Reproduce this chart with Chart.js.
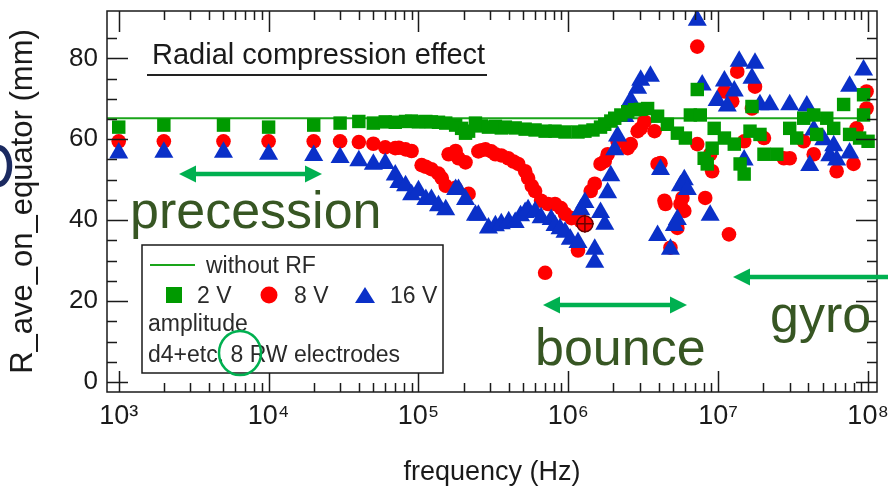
<!DOCTYPE html>
<html><head><meta charset="utf-8">
<script src="https://cdn.jsdelivr.net/npm/chart.js@4/dist/chart.umd.min.js"></script>
<style>html,body{margin:0;padding:0;background:#fff;}canvas{display:block;}</style>
</head><body>
<canvas id="c" width="888" height="492"></canvas>
<script>
// ---- data (frequency in Hz, R_ave_on_equator in mm) ----
const xTickValues = [1e3, 1e4, 1e5, 1e6, 1e7, 1e8];
const xTickLabels = ['10\u00B3', '10\u2074', '10\u2075', '10\u2076', '10\u2077', '10\u2078'];
const yTickValues = [0, 20, 40, 60, 80];

const freqNoRF = [835, 1e8];
const rNoRF = [65.2, 65.2];

const freq2V = [1e3,2e3,5e3,1e4,2e4,3e4,4e4,5e4,6e4,7e4,8.2e4,9e4,1e5,1.12e5,1.22e5,1.36e5,1.52e5,1.77e5,1.94e5,2.06e5,2.16e5,2.4e5,2.63e5,2.93e5,3.26e5,3.57e5,3.8e5,4.42e5,5.15e5,6e5,7e5,8.15e5,9.5e5,1.16e6,1.29e6,1.46e6,1.64e6,1.75e6,1.92e6,2.04e6,2.24e6,2.49e6,2.77e6,3.04e6,3.38e6,3.94e6,4.58e6,5.34e6,6.04e6,6.52e6,7.25e6,7.59e6,8.06e6,8.45e6,9.11e6,9.4e6,1.1e7,1.28e7,1.4e7,1.49e7,1.63e7,1.68e7,1.9e7,2.02e7,2.46e7,3e7,3.34e7,3.72e7,4.34e7,4.54e7,5.3e7,5.9e7,6.87e7,7.53e7,8.78e7,9.33e7,9.33e7,1e8];
const r2V = [63,63.5,63.5,63,63.5,64,64.4,64,64.3,64.2,64.4,64.5,64.3,64.4,64.3,64.2,64,63.5,62.7,61.5,62,64,63.3,63,63.2,62.8,63,62.8,62.5,62.3,62,62,61.8,61.8,62,62.3,63,63.7,64.5,65.2,66,66.8,67.3,67.4,67.6,65.7,63.7,61.5,60.3,66,72.3,66,55.3,53.9,57.8,62.7,60.3,58.8,53.9,51.4,62,68.1,61.2,56.3,56.3,62.7,60.3,65.2,66,61.2,65.2,62.7,68.6,61.2,60.3,71,66,59.5];

const freq8V = [1e3,2e3,5e3,1e4,2e4,3e4,4e4,5e4,6e4,7e4,7.4e4,8.2e4,9e4,1.05e5,1.12e5,1.22e5,1.36e5,1.43e5,1.52e5,1.59e5,1.77e5,1.77e5,1.85e5,2.06e5,2.16e5,2.51e5,2.63e5,2.8e5,3.06e5,3.26e5,3.57e5,3.97e5,4.3e5,4.63e5,5.15e5,5.39e5,5.7e5,6e5,6.58e5,7e5,7.33e5,8.15e5,8.93e5,9.5e5,1.05e6,1.16e6,1.21e6,1.41e6,1.5e6,1.64e6,1.75e6,1.83e6,2.13e6,2.49e6,2.61e6,2.9e6,3.04e6,3.22e6,3.76e6,3.94e6,4.12e6,4.38e6,4.45e6,4.8e6,5.34e6,5.6e6,5.77e6,5.94e6,7.25e6,7.25e6,8.19e6,8.84e6,9.11e6,1.1e7,1.18e7,1.24e7,1.34e7,1.49e7,1.68e7,1.76e7,2.02e7,2.74e7,3e7,3.72e7,4.34e7,6.17e7,8e7,8.38e7,9.77e7,9.77e7];
const r8V = [59.5,59.5,59.5,59.5,59.5,59.5,59.3,58.9,58,57.8,57.9,57.5,57.1,53.6,53.2,52.6,51.5,50.4,48.5,56.3,48,57.1,55.3,54.3,46.5,57,57.3,57.5,57,56.3,56,55.3,54.5,53.9,52.1,50.4,48.5,47.2,44.8,27,44,44,43,41.6,40.5,32.5,39.8,47.2,49,53.9,54.6,56.3,59.5,57.8,58.8,62,62.7,64.4,62,53.9,54.1,44.8,44,33.2,38.1,44,45.5,42.3,82.9,58.8,45.5,56.3,52.1,71.8,36.5,69.4,76.7,59.5,67.6,73,60.3,55.3,55.3,59.5,56.3,52.1,53.9,62.7,71.8,67.6];

const freq16V = [1e3,2e3,5e3,1e4,2e4,3e4,4e4,5e4,6e4,7e4,7.4e4,8.2e4,9e4,1e5,1.12e5,1.22e5,1.36e5,1.52e5,1.77e5,1.85e5,2.06e5,2.4e5,2.51e5,2.93e5,3.26e5,3.57e5,4e5,4.42e5,4.8e5,5.15e5,5.39e5,6e5,6.58e5,7.68e5,8.15e5,8.8e5,9.5e5,1.03e6,1.16e6,1.21e6,1.29e6,1.5e6,1.5e6,1.64e6,1.75e6,1.83e6,1.92e6,2.04e6,2.13e6,2.38e6,2.61e6,2.9e6,3.04e6,3.53e6,3.94e6,4.12e6,4.8e6,5.1e6,5.34e6,5.6e6,5.94e6,6.22e6,7.25e6,7.82e6,8.84e6,9.84e6,1.1e7,1.15e7,1.28e7,1.38e7,1.49e7,1.68e7,1.76e7,1.9e7,2.21e7,3e7,3.9e7,4.08e7,4.34e7,5.06e7,5.55e7,5.9e7,6.17e7,7.53e7,7.53e7,9.33e7];
const r16V = [56.6,56.8,56.8,56.3,56,55.5,54.7,53.8,54,51.2,49.3,48.5,46.3,47.3,45.1,45.1,43.6,42.6,47.6,47.6,45.1,41.2,41.2,38.1,38.6,39.1,39.6,39.4,41.1,41.9,42.6,42.1,40.6,40.2,38.7,37.9,37,35.3,34.5,42.6,44.4,32.8,29.6,41.9,39,46.8,51,57.4,60.8,65.6,69.6,72.6,74.6,75.6,36.2,52.5,32.8,38.7,40.2,48.5,50,47.6,89.4,73.4,41.2,69.6,74.4,68.2,71.9,79.3,54.9,75.1,78.8,68.5,68.5,68.5,68.2,53.5,62.3,59.9,55.9,58.4,54.9,56.6,73.1,77.1];

const freqMarked = [1.29e6];
const rMarked = [39.1];

// ---- styles ----
const GREEN = '#009a00', RED = '#ff0000', BLUE = '#0a30c8', LINE_GREEN = '#1aa51a';
const ARROW = '#00b050', ANNOT = '#375623', INK = '#1a1a1a';
const FONT = "'Liberation Sans', Arial, sans-serif";
Chart.defaults.font.family = FONT;

const pts = (xs, ys) => xs.slice(0, Math.min(xs.length, ys.length)).map((x, i) => ({x, y: ys[i]}));

const decorPlugin = {
  id: 'decor',
  afterDraw(chart) {
    const ctx = chart.ctx, a = chart.chartArea;
    const xs = chart.scales.x, ys = chart.scales.y;
    ctx.save();
    // frame
    ctx.strokeStyle = INK; ctx.lineWidth = 1.5;
    ctx.strokeRect(a.left, a.top, a.right - a.left, a.bottom - a.top);
    // inside ticks x (bottom & top)
    ctx.lineWidth = 1.5;
    ctx.beginPath();
    for (let d = 3; d <= 8; d++) {
      for (let m = 1; m <= 9; m++) {
        const v = m * Math.pow(10, d);
        if (v > 1e8) continue;
        const px = Math.round(xs.getPixelForValue(v)) + 0.5;
        const len = m === 1 ? 21 : 9;
        ctx.moveTo(px, a.bottom); ctx.lineTo(px, a.bottom - len);
        ctx.moveTo(px, a.top); ctx.lineTo(px, a.top + len);
      }
    }
    for (let v = 0; v <= 85; v += 5) {
      const py = Math.round(ys.getPixelForValue(v)) + 0.5;
      const len = v % 20 === 0 ? 21 : 10;
      ctx.moveTo(a.left, py); ctx.lineTo(a.left + len, py);
      ctx.moveTo(a.right, py); ctx.lineTo(a.right - len, py);
    }
    ctx.stroke();

    // partial dark glyph at left edge
    ctx.strokeStyle = '#1b2a60'; ctx.lineWidth = 5.5;
    ctx.beginPath(); ctx.ellipse(-2, 166, 11.5, 18.5, 0, -Math.PI/2, Math.PI/2); ctx.stroke();

    // title-like label
    ctx.fillStyle = INK; ctx.textBaseline = 'alphabetic'; ctx.textAlign = 'left';
    ctx.font = `29px ${FONT}`;
    ctx.fillText('Radial compression effect', 152, 64);
    ctx.strokeStyle = '#222'; ctx.lineWidth = 2;
    ctx.beginPath(); ctx.moveTo(147, 75); ctx.lineTo(487, 75); ctx.stroke();

    // arrows
    const arrow = (x1, x2, y, left, right) => {
      ctx.strokeStyle = ARROW; ctx.fillStyle = ARROW; ctx.lineWidth = 4.5;
      const hl = 17, hw = 8.5;
      ctx.beginPath(); ctx.moveTo(left ? x1 + hl - 2 : x1, y); ctx.lineTo(right ? x2 - hl + 2 : x2, y); ctx.stroke();
      if (left) { ctx.beginPath(); ctx.moveTo(x1, y); ctx.lineTo(x1 + hl, y - hw); ctx.lineTo(x1 + hl, y + hw); ctx.closePath(); ctx.fill(); }
      if (right) { ctx.beginPath(); ctx.moveTo(x2, y); ctx.lineTo(x2 - hl, y - hw); ctx.lineTo(x2 - hl, y + hw); ctx.closePath(); ctx.fill(); }
    };
    arrow(179, 322, 174, true, true);
    arrow(543, 687, 305, true, true);
    arrow(733, 900, 277, true, false);

    // annotation words
    ctx.fillStyle = ANNOT; ctx.font = `52px ${FONT}`;
    ctx.fillText('precession', 130, 228);
    ctx.fillText('bounce', 535, 365);
    ctx.fillText('gyro', 770, 332);

    // legend box
    ctx.fillStyle = '#fff'; ctx.fillRect(142, 245, 301, 128);
    ctx.strokeStyle = INK; ctx.lineWidth = 1.5; ctx.strokeRect(142, 245, 301, 128);
    ctx.strokeStyle = LINE_GREEN; ctx.lineWidth = 2;
    ctx.beginPath(); ctx.moveTo(150, 265); ctx.lineTo(195, 265); ctx.stroke();
    ctx.fillStyle = '#2a2a2a'; ctx.font = `23px ${FONT}`;
    ctx.fillText('without RF', 206, 273);
    ctx.fillText('2 V', 197, 303);
    ctx.fillText('8 V', 294, 303);
    ctx.fillText('16 V', 390, 303);
    ctx.fillText('amplitude', 148, 331);
    ctx.fillText('d4+etc. 8 RW electrodes', 148, 362);
    ctx.fillStyle = GREEN; ctx.fillRect(166, 287, 16, 16);
    ctx.fillStyle = RED; ctx.beginPath(); ctx.arc(269, 295, 8.5, 0, Math.PI * 2); ctx.fill();
    ctx.fillStyle = BLUE; ctx.beginPath(); ctx.moveTo(365, 287); ctx.lineTo(375, 303); ctx.lineTo(355, 303); ctx.closePath(); ctx.fill();
    ctx.strokeStyle = ARROW; ctx.lineWidth = 2.5;
    ctx.beginPath(); ctx.ellipse(240, 353, 21, 22, 0, 0, Math.PI * 2); ctx.stroke();
    ctx.restore();
  }
};

new Chart(document.getElementById('c'), {
  type: 'scatter',
  data: {
    datasets: [
      { label: 'marked', data: pts(freqMarked, rMarked), pointStyle: 'cross', pointRadius: 9, borderColor: '#6b0000', borderWidth: 1.5, backgroundColor: 'transparent' },
      { label: 'marked circle', data: pts(freqMarked, rMarked), pointStyle: 'circle', pointRadius: 8, borderColor: '#6b0000', borderWidth: 1.5, backgroundColor: RED },
      { label: '2 V', data: pts(freq2V, r2V), pointStyle: 'rect', pointRadius: 9.5, backgroundColor: GREEN, borderWidth: 0 },
      { label: '16 V', data: pts(freq16V, r16V), pointStyle: 'triangle', pointRadius: 11, backgroundColor: BLUE, borderWidth: 0 },
      { label: '8 V', data: pts(freq8V, r8V), pointStyle: 'circle', pointRadius: 7.3, backgroundColor: RED, borderWidth: 0 },
      { label: 'without RF', type: 'line', data: pts(freqNoRF, rNoRF), showLine: true, pointRadius: 0, borderColor: LINE_GREEN, borderWidth: 2, fill: false }
    ]
  },
  options: {
    responsive: false, animation: false, devicePixelRatio: 1,
    layout: { padding: { left: 0, right: 7, top: 9, bottom: 0 } },
    plugins: { legend: { display: false }, tooltip: { enabled: false } },
    elements: { point: { hoverRadius: 0 } },
    scales: {
      x: {
        type: 'logarithmic', min: 835, max: 1.147e8,
        afterBuildTicks: s => { s.ticks = xTickValues.map(v => ({ value: v })); },
        afterFit: s => { s.height = 100; s.paddingLeft = 0; s.paddingRight = 0; },
        ticks: { autoSkip: false, maxRotation: 0, minRotation: 0, padding: 8, color: INK, font: { size: 27 },
                 callback: (v, i) => xTickLabels[i] },
        grid: { display: false, drawTicks: false }, border: { display: false },
        title: { display: true, text: 'frequency (Hz)', color: INK, font: { size: 27 }, padding: { top: 0, bottom: 3 } }
      },
      y: {
        type: 'linear', min: -2.46, max: 91.7,
        afterBuildTicks: s => { s.ticks = yTickValues.map(v => ({ value: v })); },
        afterFit: s => { s.width = 107; s.paddingTop = 0; s.paddingBottom = 0; },
        ticks: { padding: 9, color: INK, font: { size: 26 } },
        grid: { display: false, drawTicks: false }, border: { display: false },
        title: { display: true, text: 'R_ave_on_equator (mm)', color: INK, font: { size: 31 }, padding: { top: 5, bottom: 0 } }
      }
    }
  },
  plugins: [decorPlugin]
});
</script>
</body></html>
